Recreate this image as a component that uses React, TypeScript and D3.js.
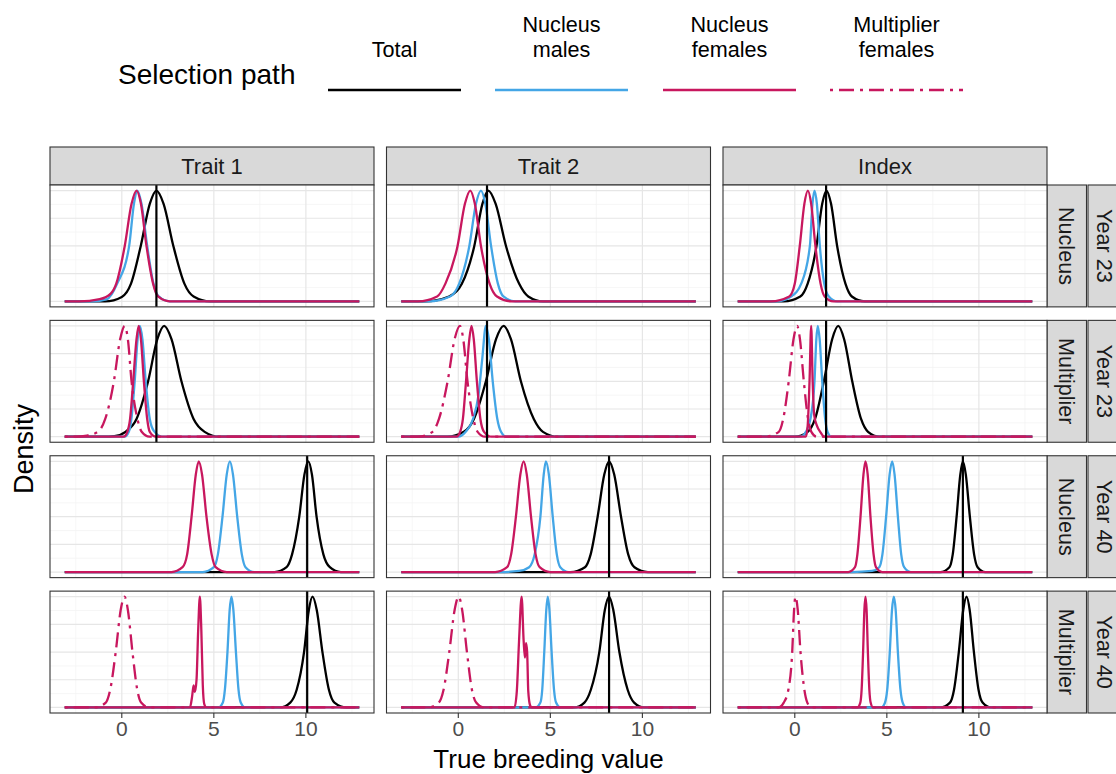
import * as React from "react";
import * as d3 from "d3";

// facets
const traits = ["Trait 1", "Trait 2", "Index"];
const rowTiers = ["Nucleus", "Multiplier", "Nucleus", "Multiplier"];
const rowYears = ["Year 23", "Year 40"];
const rowYearIdx = [0, 0, 1, 1];

// legend
const paths = ["total", "males", "females", "multiplier"];
const pathLabels = [["Total"], ["Nucleus", "males"], ["Nucleus", "females"], ["Multiplier", "females"]];
const pathColors = ["#000000", "#44A6E6", "#C8175E", "#C8175E"];
const pathDash = [null, null, null, "3,6,15,6"];

const xTicks = [0, 5, 10];
const xRange = [-3.1, 12.9];

// mean true breeding value of total, per trait (vertical line)
const totalMeanY23 = [1.88, 1.56, 1.7];
const totalMeanY40 = [10.07, 8.19, 9.13];

// scaled densities [x, density]
const trait1NucleusY23 = {
  total: [[-0.9, 0], [0.0, 0.04], [0.5, 0.16], [1.03, 0.5], [1.52, 0.88], [1.88, 1], [2.27, 0.88], [2.8, 0.5], [3.4, 0.16], [3.9, 0.044], [4.8, 0]],
  males: [[-1.6, 0], [-0.8, 0.02], [-0.25, 0.16], [0.4, 0.5], [0.66, 0.88], [0.85, 1], [1.07, 0.88], [1.38, 0.5], [1.72, 0.16], [2.0, 0.044], [2.6, 0]],
  females: [[-2.3, 0], [-1.2, 0.02], [-0.6, 0.07], [-0.3, 0.16], [0.16, 0.5], [0.53, 0.88], [0.8, 1], [1.04, 0.88], [1.34, 0.5], [1.7, 0.16], [1.97, 0.044], [2.6, 0]],
};
const trait1MultiplierY23 = {
  total: [[-1.0, 0], [-0.4, 0.005], [0.2, 0.044], [0.8, 0.16], [1.43, 0.5], [1.93, 0.88], [2.3, 1], [2.7, 0.88], [3.24, 0.5], [3.9, 0.16], [4.5, 0.044], [5.3, 0]],
  males: [[0.15, 0], [0.38, 0.044], [0.52, 0.16], [0.7, 0.5], [0.86, 0.88], [0.98, 1], [1.12, 0.88], [1.3, 0.5], [1.52, 0.16], [1.75, 0.05], [2.2, 0]],
  females: [[0.1, 0], [0.3, 0.044], [0.45, 0.16], [0.62, 0.5], [0.8, 0.88], [0.92, 1], [1.04, 0.88], [1.2, 0.5], [1.38, 0.16], [1.52, 0.044], [1.85, 0]],
  multiplier: [[-2.5, 0], [-1.9, 0.01], [-1.3, 0.044], [-0.9, 0.16], [-0.43, 0.5], [-0.09, 0.88], [0.16, 1], [0.33, 0.88], [0.53, 0.5], [0.85, 0.16], [1.08, 0.044], [1.5, 0]],
};
const trait1NucleusY40 = {
  total: [[8.3, 0], [8.95, 0.044], [9.25, 0.16], [9.64, 0.5], [9.92, 0.88], [10.13, 1], [10.33, 0.88], [10.58, 0.5], [10.95, 0.16], [11.3, 0.044], [11.9, 0]],
  males: [[4.4, 0], [5.0, 0.044], [5.22, 0.16], [5.47, 0.5], [5.7, 0.88], [5.87, 1], [6.04, 0.88], [6.27, 0.5], [6.52, 0.16], [6.72, 0.044], [7.2, 0]],
  females: [[2.7, 0], [3.3, 0.044], [3.55, 0.16], [3.79, 0.5], [4.02, 0.88], [4.18, 1], [4.36, 0.88], [4.6, 0.5], [4.88, 0.16], [5.1, 0.044], [5.7, 0]],
};
const trait1MultiplierY40 = {
  total: [[8.6, 0], [9.15, 0.044], [9.5, 0.16], [9.9, 0.5], [10.16, 0.88], [10.36, 1], [10.59, 0.88], [10.9, 0.5], [11.25, 0.16], [11.55, 0.044], [12.2, 0]],
  males: [[5.25, 0], [5.49, 0.044], [5.6, 0.16], [5.74, 0.5], [5.86, 0.88], [5.96, 1], [6.06, 0.88], [6.2, 0.5], [6.34, 0.16], [6.46, 0.044], [6.7, 0]],
  females: [[3.7, 0], [3.82, 0.1], [3.9, 0.2], [3.97, 0.14], [4.06, 0.25], [4.15, 0.7], [4.24, 1], [4.32, 0.7], [4.4, 0.2], [4.48, 0.03], [4.6, 0]],
  multiplier: [[-1.45, 0], [-0.87, 0.044], [-0.63, 0.16], [-0.33, 0.5], [-0.06, 0.88], [0.15, 1], [0.33, 0.88], [0.58, 0.5], [0.84, 0.16], [1.05, 0.044], [1.5, 0]],
};
const trait2NucleusY23 = {
  total: [[-1.8, 0], [-0.5, 0.044], [0.2, 0.16], [0.87, 0.5], [1.31, 0.88], [1.63, 1], [2.03, 0.88], [2.59, 0.5], [3.3, 0.16], [3.8, 0.044], [4.6, 0]],
  males: [[-1.6, 0], [-0.45, 0.044], [0.05, 0.16], [0.6, 0.5], [0.96, 0.88], [1.23, 1], [1.47, 0.88], [1.78, 0.5], [2.15, 0.16], [2.45, 0.044], [3.1, 0]],
  females: [[-2.2, 0], [-1.15, 0.044], [-0.7, 0.16], [-0.04, 0.5], [0.36, 0.88], [0.65, 1], [0.9, 0.88], [1.23, 0.5], [1.7, 0.16], [2.1, 0.044], [2.9, 0]],
};
const trait2MultiplierY23 = {
  total: [[-0.6, 0], [0.3, 0.044], [0.85, 0.16], [1.5, 0.5], [2.05, 0.88], [2.46, 1], [2.86, 0.88], [3.4, 0.5], [4.1, 0.16], [4.6, 0.044], [5.4, 0]],
  males: [[0.0, 0], [0.4, 0.044], [0.8, 0.16], [1.1, 0.38], [1.3, 0.7], [1.5, 1], [1.66, 0.88], [1.87, 0.5], [2.12, 0.16], [2.32, 0.044], [2.6, 0]],
  females: [[-0.1, 0], [0.1, 0.044], [0.25, 0.16], [0.42, 0.5], [0.6, 0.88], [0.72, 1], [0.84, 0.88], [1.01, 0.5], [1.2, 0.16], [1.4, 0.044], [1.8, 0]],
  multiplier: [[-2.2, 0], [-1.4, 0.044], [-1.05, 0.16], [-0.58, 0.5], [-0.2, 0.88], [0.09, 1], [0.27, 0.88], [0.5, 0.5], [0.82, 0.16], [1.05, 0.044], [1.45, 0]],
};
const trait2NucleusY40 = {
  total: [[6.1, 0], [6.88, 0.044], [7.19, 0.16], [7.57, 0.5], [7.93, 0.88], [8.19, 1], [8.47, 0.88], [8.84, 0.5], [9.23, 0.16], [9.57, 0.044], [10.3, 0]],
  males: [[2.3, 0], [3.3, 0.01], [3.85, 0.044], [4.15, 0.16], [4.46, 0.5], [4.64, 0.88], [4.76, 1], [4.92, 0.88], [5.13, 0.5], [5.35, 0.16], [5.54, 0.044], [6.0, 0]],
  females: [[2.0, 0], [2.65, 0.044], [2.87, 0.16], [3.13, 0.5], [3.37, 0.88], [3.55, 1], [3.72, 0.88], [3.95, 0.5], [4.2, 0.16], [4.42, 0.044], [5.0, 0]],
};
const trait2MultiplierY40 = {
  total: [[6.3, 0], [6.85, 0.044], [7.2, 0.16], [7.66, 0.5], [7.96, 0.88], [8.19, 1], [8.42, 0.88], [8.75, 0.5], [9.2, 0.16], [9.55, 0.044], [10.1, 0]],
  males: [[4.2, 0], [4.46, 0.044], [4.56, 0.16], [4.67, 0.5], [4.78, 0.88], [4.86, 1], [4.95, 0.88], [5.07, 0.5], [5.2, 0.16], [5.31, 0.044], [5.55, 0]],
  females: [[3.05, 0], [3.18, 0.15], [3.3, 0.6], [3.44, 1], [3.55, 0.6], [3.62, 0.45], [3.68, 0.58], [3.74, 0.5], [3.8, 0.15], [3.9, 0.02], [4.0, 0]],
  multiplier: [[-1.6, 0], [-1.06, 0.044], [-0.8, 0.16], [-0.49, 0.5], [-0.2, 0.88], [0.02, 1], [0.21, 0.88], [0.47, 0.5], [0.74, 0.16], [0.97, 0.044], [1.4, 0]],
};
const indexNucleusY23 = {
  total: [[-0.6, 0], [0.3, 0.044], [0.7, 0.16], [1.18, 0.5], [1.49, 0.88], [1.72, 1], [1.97, 0.88], [2.3, 0.5], [2.75, 0.16], [3.1, 0.044], [3.8, 0]],
  males: [[-1.0, 0], [-0.2, 0.044], [0.35, 0.16], [0.82, 0.5], [0.96, 0.88], [1.07, 1], [1.2, 0.88], [1.36, 0.5], [1.6, 0.16], [1.85, 0.044], [2.3, 0]],
  females: [[-1.3, 0], [-0.3, 0.044], [0.0, 0.16], [0.27, 0.5], [0.52, 0.88], [0.71, 1], [0.89, 0.88], [1.12, 0.5], [1.4, 0.16], [1.62, 0.044], [2.1, 0]],
};
const indexMultiplierY23 = {
  total: [[0, 0], [0.7, 0.044], [1.1, 0.16], [1.58, 0.5], [2.03, 0.88], [2.36, 1], [2.68, 0.88], [3.12, 0.5], [3.6, 0.16], [3.98, 0.044], [4.6, 0]],
  males: [[0.3, 0], [0.6, 0.044], [0.85, 0.16], [1.07, 0.5], [1.17, 0.88], [1.25, 1], [1.35, 0.88], [1.49, 0.5], [1.65, 0.16], [1.78, 0.044], [2.0, 0]],
  females: [[0.6, 0], [0.7, 0.1], [0.8, 0.5], [0.89, 1], [0.97, 0.5], [1.05, 0.2], [1.2, 0.1], [1.4, 0.04], [1.6, 0]],
  multiplier: [[-1.6, 0], [-0.87, 0.044], [-0.63, 0.16], [-0.33, 0.5], [-0.07, 0.88], [0.13, 1], [0.28, 0.88], [0.49, 0.5], [0.72, 0.16], [0.9, 0.044], [1.2, 0]],
};
const indexNucleusY40 = {
  total: [[7.9, 0], [8.4, 0.044], [8.58, 0.16], [8.79, 0.5], [8.99, 0.88], [9.13, 1], [9.29, 0.88], [9.51, 0.5], [9.74, 0.16], [9.93, 0.044], [10.35, 0]],
  males: [[3.1, 0], [4.2, 0.01], [4.59, 0.044], [4.76, 0.16], [4.96, 0.5], [5.15, 0.88], [5.29, 1], [5.42, 0.88], [5.6, 0.5], [5.78, 0.16], [5.94, 0.044], [6.3, 0]],
  females: [[2.9, 0], [3.27, 0.044], [3.4, 0.16], [3.57, 0.5], [3.73, 0.88], [3.84, 1], [3.96, 0.88], [4.11, 0.5], [4.28, 0.16], [4.41, 0.044], [4.75, 0]],
};
const indexMultiplierY40 = {
  total: [[7.9, 0], [8.43, 0.044], [8.65, 0.16], [8.91, 0.5], [9.15, 0.88], [9.33, 1], [9.5, 0.88], [9.73, 0.5], [9.98, 0.16], [10.2, 0.044], [10.65, 0]],
  males: [[4.7, 0], [4.9, 0.044], [5.02, 0.16], [5.16, 0.5], [5.28, 0.88], [5.38, 1], [5.48, 0.88], [5.6, 0.5], [5.74, 0.16], [5.86, 0.044], [6.05, 0]],
  females: [[3.4, 0], [3.56, 0.044], [3.63, 0.16], [3.71, 0.5], [3.78, 0.88], [3.84, 1], [3.9, 0.88], [3.97, 0.5], [4.05, 0.16], [4.12, 0.044], [4.25, 0]],
  multiplier: [[-0.9, 0], [-0.6, 0.044], [-0.35, 0.16], [-0.14, 0.5], [-0.04, 0.88], [0.04, 1], [0.16, 0.88], [0.31, 0.5], [0.52, 0.16], [0.68, 0.044], [0.9, 0]],
};

// panels[row][col]
const panels = [
  [trait1NucleusY23, trait2NucleusY23, indexNucleusY23],
  [trait1MultiplierY23, trait2MultiplierY23, indexMultiplierY23],
  [trait1NucleusY40, trait2NucleusY40, indexNucleusY40],
  [trait1MultiplierY40, trait2MultiplierY40, indexMultiplierY40],
];

const W = 1116;
const H = 774;
const font = "'Liberation Sans', Arial, Helvetica, sans-serif";

const left = 50;
const right = 1047;
const top = 185;
const bottom = 713;
const colGap = 12.5;
const rowGap = 13.5;
const panelW = (right - left - 2 * colGap) / 3;
const panelH = (bottom - top - 3 * rowGap) / 4;
const stripH = 38;
const stripW = 39.5;

export default function App() {
  const colX = (c) => left + c * (panelW + colGap);
  const rowY = (r) => top + r * (panelH + rowGap);

  const yMajor = [0, 0.25, 0.5, 0.75, 1];
  const yMinor = [0.125, 0.375, 0.625, 0.875];
  const xMinor = [-2.5, 2.5, 7.5, 12.5];

  const legendCenters = [394.5, 561.5, 729.5, 896.5];

  return (
    <svg width={W} height={H} style={{ position: "absolute", left: 0, top: 0, background: "#fff" }} fontFamily={font}>
      <rect width={W} height={H} fill="#fff" />

      {/* legend */}
      <text x={118} y={84} fontSize={28} fill="#000">Selection path</text>
      {paths.map((p, i) => (
        <g key={p}>
          {pathLabels[i].map((t, j) => (
            <text key={j} x={legendCenters[i]} y={57 - (pathLabels[i].length - 1 - j) * 25}
              fontSize={21.6} textAnchor="middle" fill="#000">{t}</text>
          ))}
          <line x1={legendCenters[i] - 66.5} x2={legendCenters[i] + 66.5} y1={90} y2={90}
            stroke={pathColors[i]} strokeWidth={2.4} strokeDasharray={pathDash[i] || undefined} />
        </g>
      ))}

      {/* top strips */}
      {traits.map((t, c) => (
        <g key={t}>
          <rect x={colX(c)} y={top - stripH} width={panelW} height={stripH} fill="#D9D9D9" stroke="#333" strokeWidth={1.1} />
          <text x={colX(c) + panelW / 2} y={top - 11.5} fontSize={22} textAnchor="middle" fill="#1A1A1A">{t}</text>
        </g>
      ))}

      {/* right strips */}
      {rowTiers.map((tier, r) => {
        const cy = rowY(r) + panelH / 2;
        const s1 = right;
        const s2 = right + stripW + 1.5;
        return (
          <g key={r}>
            <rect x={s1} y={rowY(r)} width={stripW} height={panelH} fill="#D9D9D9" stroke="#333" strokeWidth={1.1} />
            <rect x={s2} y={rowY(r)} width={stripW} height={panelH} fill="#D9D9D9" stroke="#333" strokeWidth={1.1} />
            <text transform={`translate(${s1 + 11.5},${cy}) rotate(90)`} fontSize={21.6}
              textAnchor="middle" fill="#1A1A1A">{tier}</text>
            <text transform={`translate(${s2 + 9},${cy}) rotate(90)`} fontSize={21.6}
              textAnchor="middle" fill="#1A1A1A">{rowYears[rowYearIdx[r]]}</text>
          </g>
        );
      })}

      {/* panels */}
      {panels.map((row, r) =>
        row.map((panel, c) => {
          const x = d3.scaleLinear().domain([-3.9, 13.7]).range([colX(c), colX(c) + panelW]);
          const y = d3.scaleLinear().domain([-0.05, 1.05]).range([rowY(r) + panelH, rowY(r)]);
          const line = d3.line().x((d) => x(d[0])).y((d) => y(d[1])).curve(d3.curveMonotoneX);
          const vx = rowYearIdx[r] === 0 ? totalMeanY23[c] : totalMeanY40[c];
          return (
            <g key={`${r}-${c}`}>
              <rect x={colX(c)} y={rowY(r)} width={panelW} height={panelH} fill="#fff" />
              {yMinor.map((v) => (
                <line key={`ym${v}`} x1={colX(c)} x2={colX(c) + panelW} y1={y(v)} y2={y(v)} stroke="#F2F2F2" strokeWidth={0.7} />
              ))}
              {xMinor.map((v) => (
                <line key={`xm${v}`} x1={x(v)} x2={x(v)} y1={rowY(r)} y2={rowY(r) + panelH} stroke="#F2F2F2" strokeWidth={0.7} />
              ))}
              {yMajor.map((v) => (
                <line key={`yM${v}`} x1={colX(c)} x2={colX(c) + panelW} y1={y(v)} y2={y(v)} stroke="#E6E6E6" strokeWidth={1.2} />
              ))}
              {xTicks.map((v) => (
                <line key={`xM${v}`} x1={x(v)} x2={x(v)} y1={rowY(r)} y2={rowY(r) + panelH} stroke="#E6E6E6" strokeWidth={1.2} />
              ))}
              {paths.map((p, i) =>
                panel[p] ? (
                  <path key={p} d={line([[xRange[0], 0], ...panel[p], [xRange[1], 0]])} fill="none"
                    stroke={pathColors[i]} strokeWidth={2.3} strokeDasharray={pathDash[i] || undefined}
                    strokeLinejoin="round" />
                ) : null
              )}
              <line x1={x(vx)} x2={x(vx)} y1={rowY(r)} y2={rowY(r) + panelH} stroke="#000" strokeWidth={2.2} />
              <rect x={colX(c)} y={rowY(r)} width={panelW} height={panelH} fill="none" stroke="#333" strokeWidth={1.1} />
              {r === 3 &&
                xTicks.map((v) => (
                  <g key={`t${v}`}>
                    <line x1={x(v)} x2={x(v)} y1={bottom} y2={bottom + 5} stroke="#333" strokeWidth={1.1} />
                    <text x={x(v)} y={736} fontSize={21} textAnchor="middle" fill="#4D4D4D">{v}</text>
                  </g>
                ))}
            </g>
          );
        })
      )}

      {/* axis titles */}
      <text x={(left + right) / 2} y={768} fontSize={26} textAnchor="middle" fill="#000">True breeding value</text>
      <text transform={`translate(33,${(top + bottom) / 2}) rotate(-90)`} fontSize={27} textAnchor="middle" fill="#000">Density</text>
    </svg>
  );
}
